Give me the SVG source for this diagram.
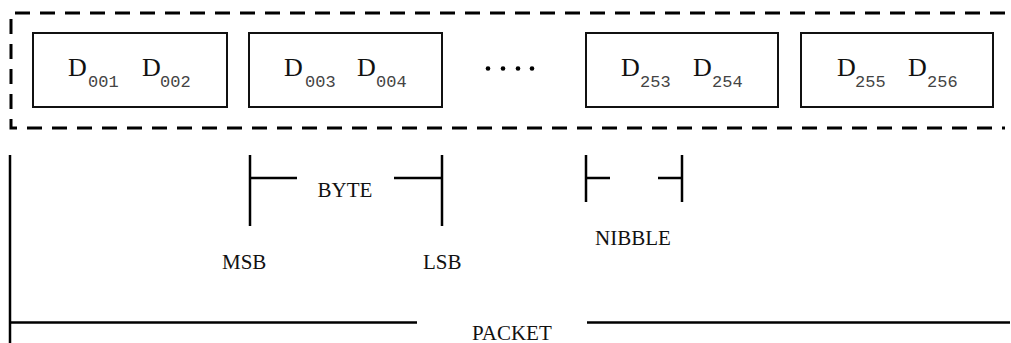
<svg xmlns="http://www.w3.org/2000/svg" width="1011" height="343" viewBox="0 0 1011 343">
<style>
.box{fill:#fff;stroke:#111;stroke-width:2}
.dash{fill:none;stroke:#000;stroke-width:3;stroke-dasharray:15 10}
.ln{fill:none;stroke:#000;stroke-width:2.5}
.d{font-family:"Liberation Serif",serif;font-size:26px;fill:#111}
.s{font-family:"Liberation Mono",monospace;font-size:17px;fill:#444}
.lbl{font-family:"Liberation Serif",serif;font-size:21px;fill:#111}
</style>
<rect width="1011" height="343" fill="#fff"/>
<g id="packet-frame">
<path class="dash" d="M1005 13 H11 V128 H1005"/>
</g>
<g id="box1"><rect class="box" x="33" y="33" width="194" height="74"/>
<text class="d" x="68" y="75.5">D</text><text class="s" x="88" y="87">001</text>
<text class="d" x="142" y="75.5">D</text><text class="s" x="160" y="87">002</text></g>
<g id="box2"><rect class="box" x="249" y="33" width="193" height="74"/>
<text class="d" x="284" y="75.5">D</text><text class="s" x="305" y="87">003</text>
<text class="d" x="357" y="75.5">D</text><text class="s" x="376" y="87">004</text></g>
<g id="ellipsis"><circle cx="488" cy="68.5" r="2.3"/><circle cx="503" cy="68.5" r="2.3"/><circle cx="518" cy="68.5" r="2.3"/><circle cx="532" cy="68.5" r="2.3"/></g>
<g id="box3"><rect class="box" x="586" y="33" width="192" height="74"/>
<text class="d" x="621" y="75.5">D</text><text class="s" x="640" y="87">253</text>
<text class="d" x="693" y="75.5">D</text><text class="s" x="712" y="87">254</text></g>
<g id="box4"><rect class="box" x="801" y="33" width="192" height="74"/>
<text class="d" x="837" y="75.5">D</text><text class="s" x="855" y="87">255</text>
<text class="d" x="908" y="75.5">D</text><text class="s" x="927" y="87">256</text></g>
<g id="connectors">
<path class="ln" d="M250 155 V226 M250 178 H297 M394 178 H442 M442 155 V226"/>
<path class="ln" d="M586 155 V202 M586 178 H610 M658 178 H682 M682 155 V202"/>
<path class="ln" d="M10 155 V343 M10 322.5 H417 M587 322.5 H1010"/>
</g>
<g id="labels">
<text class="lbl" x="345" y="197" text-anchor="middle">BYTE</text>
<text class="lbl" x="222" y="269">MSB</text>
<text class="lbl" x="423" y="269">LSB</text>
<text class="lbl" x="595" y="245">NIBBLE</text>
<text class="lbl" x="472" y="340">PACKET</text>
</g>
</svg>
